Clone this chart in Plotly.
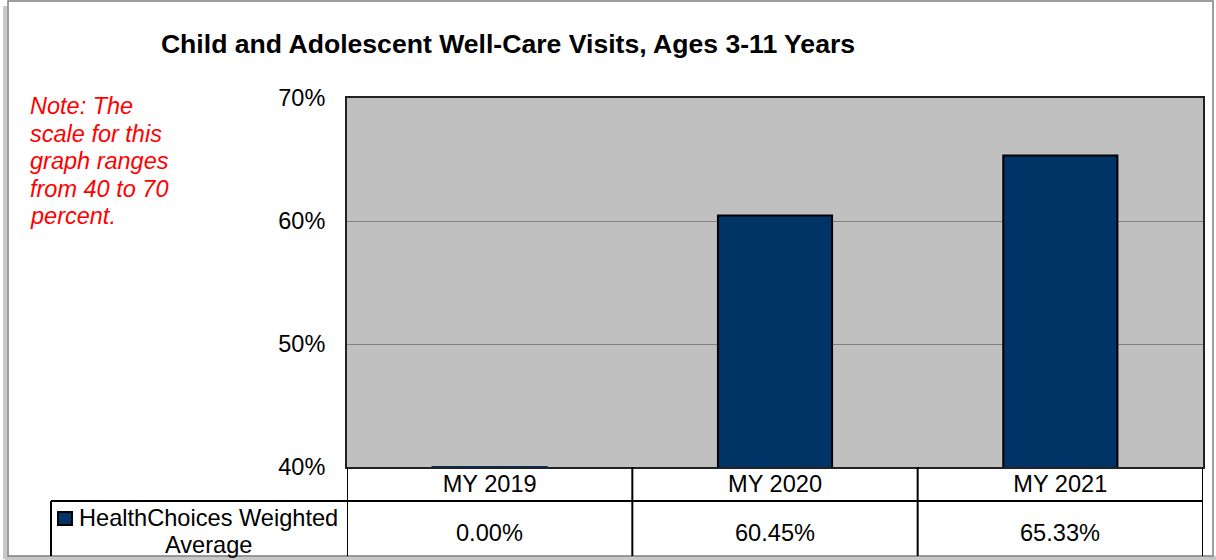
"""
Graphique : visites de suivi (Well-Care), enfants et adolescents de 3 à 11 ans.
"""

import plotly.graph_objects as go

# données
categories = ["MY 2019", "MY 2020", "MY 2021"]
valeurs = [0.00, 60.45, 65.33]
nom_serie = ["HealthChoices Weighted", "Average"]
y_ticks = [40, 50, 60, 70]
y_labels = ["40%", "50%", "60%", "70%"]
titre = "Child and Adolescent Well-Care Visits, Ages 3-11 Years"
note = ["Note: The", "scale for this", "graph ranges", "from 40 to 70", "percent."]

# géométrie de la page (pixels)
W, H = 1216, 560
L, R, T, B = 347, 13, 98, 93
PW = W - L - R
PH = H - T - B

POLICE = "Arial, Liberation Sans, sans-serif"
BLEU = "#003366"
TAILLE = 23.6


def px_x(px):
    """pixel horizontal -> coordonnée paper"""
    return (px - L) / PW


def px_y(py):
    """pixel vertical -> coordonnée paper"""
    return (H - B - py) / PH


def texte(x, y, s, **kw):
    """annotation de texte positionnée en pixels"""
    d = dict(x=px_x(x), xref="paper", y=px_y(y), yref="paper", text=s,
             showarrow=False, xanchor="center", yanchor="middle",
             font=dict(size=TAILLE, color="black"))
    d.update(kw)
    return d


def main() -> None:
    y_min = y_ticks[0]
    # Excel pose les valeurs sous le minimum de l'échelle sur l'axe
    hauteurs = [max(v, y_min) for v in valeurs]
    # contour : bleu pour la barre aplatie, noir pour les autres
    contours = [BLEU if v < y_min else "black" for v in valeurs]

    fig = go.Figure()
    fig.add_trace(go.Bar(
        x=categories, y=hauteurs, name=" ".join(nom_serie), width=0.4,
        marker=dict(color=BLEU, line=dict(color=contours, width=2)),
        showlegend=False, hoverinfo="skip",
    ))

    shapes = []
    ligne = dict(color="black", width=2)
    # cadre extérieur + ombre
    shapes.append(dict(type="line", xref="paper", yref="paper",
                       x0=px_x(5), x1=px_x(5), y0=px_y(6), y1=px_y(559),
                       line=dict(color="#c8c8c8", width=4)))
    shapes.append(dict(type="line", xref="paper", yref="paper",
                       x0=px_x(5), x1=px_x(1216), y0=px_y(558), y1=px_y(558),
                       line=dict(color="#c8c8c8", width=4)))
    shapes.append(dict(type="rect", xref="paper", yref="paper",
                       x0=px_x(8), x1=px_x(1213), y0=px_y(556), y1=px_y(1),
                       line=dict(color="#7f7f7f", width=1.5)))
    # tableau de données sous le graphique
    shapes.append(dict(type="line", xref="paper", yref="paper",
                       x0=px_x(51), x1=1, y0=px_y(501), y1=px_y(501), line=ligne))
    shapes.append(dict(type="line", xref="paper", yref="paper",
                       x0=px_x(51), x1=px_x(51), y0=px_y(501), y1=px_y(556), line=ligne))
    for i in range(len(categories) + 1):
        shapes.append(dict(type="line", xref="x", yref="paper",
                           x0=i - 0.5, x1=i - 0.5, y0=0, y1=px_y(556), line=ligne))
    # clé de légende
    shapes.append(dict(type="rect", xref="paper", yref="paper",
                       x0=px_x(58), x1=px_x(72), y0=px_y(525), y1=px_y(512),
                       fillcolor=BLEU, line=dict(color="black", width=2)))

    annotations = []
    for c, v in zip(categories, valeurs):
        annotations.append(dict(x=c, xref="x", y=px_y(533), yref="paper",
                                text=f"{v:.2f}%", showarrow=False,
                                xanchor="center", yanchor="middle",
                                font=dict(size=TAILLE, color="black")))
    for i, s in enumerate(nom_serie):
        annotations.append(texte(208, 518 + 27 * i, s))
    for i, s in enumerate(note):
        annotations.append(texte(28, 106 + 27.5 * i, s, xanchor="left",
                                 font=dict(size=23.5, color="red", style="italic")))

    fig.update_layout(
        width=W, height=H,
        margin=dict(l=L, r=R, t=T, b=B),
        paper_bgcolor="white", plot_bgcolor="#c0c0c0",
        font=dict(family=POLICE, size=TAILLE, color="black"),
        title=dict(text=f"<b>{titre}</b>", x=508 / W, y=1 - 44 / H,
                   xanchor="center", yanchor="middle",
                   font=dict(size=26.6, color="black")),
        shapes=shapes, annotations=annotations,
        xaxis=dict(type="category", range=[-0.5, 2.5], showgrid=False,
                   showline=True, mirror=True, linecolor="#222222", linewidth=2,
                   ticks="", ticklabelstandoff=-5, tickfont=dict(size=TAILLE)),
        yaxis=dict(range=[y_min, y_ticks[-1]], tickvals=y_ticks, ticktext=y_labels,
                   showgrid=True, gridcolor="#808080", gridwidth=1,
                   zeroline=False, showline=True, mirror=True,
                   linecolor="#222222", linewidth=2, ticks="",
                   ticklabelstandoff=15, tickfont=dict(size=23.5)),
    )

    fig.write_html("out.html", config={"displayModeBar": False},
                   post_script="document.body.style.margin='0';"
                               "document.body.style.overflow='hidden';")


if __name__ == "__main__":
    main()
